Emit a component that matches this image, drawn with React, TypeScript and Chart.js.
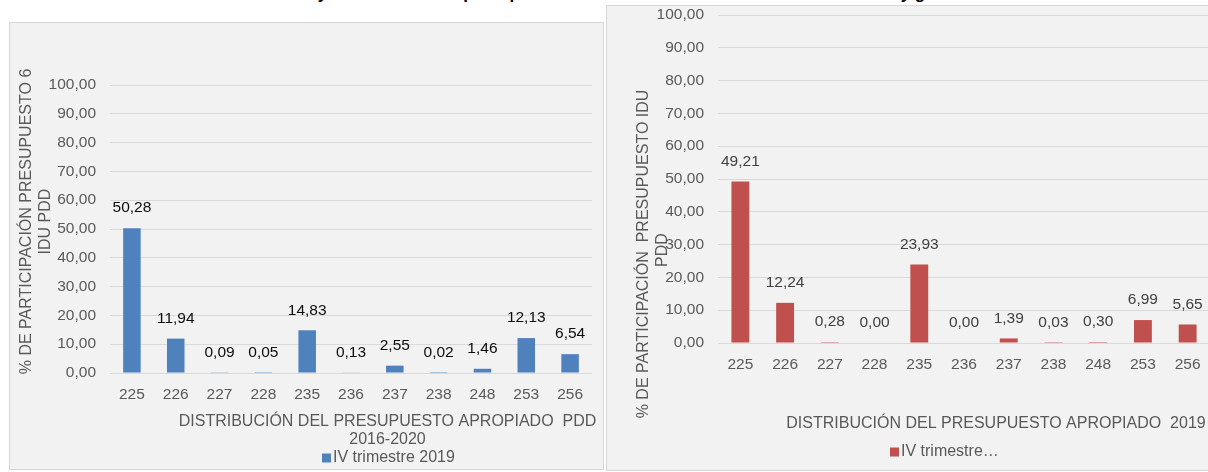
import React, { useEffect, useRef } from 'react';
import { Chart, registerables } from 'chart.js';

Chart.register(...registerables);

// ---------- data ----------
const categories = ['225', '226', '227', '228', '235', '236', '237', '238', '248', '253', '256'];
const pddShares = [50.28, 11.94, 0.09, 0.05, 14.83, 0.13, 2.55, 0.02, 1.46, 12.13, 6.54];
const year2019Shares = [49.21, 12.24, 0.28, 0.0, 23.93, 0.0, 1.39, 0.03, 0.3, 6.99, 5.65];
const yTickValues = [0, 10, 20, 30, 40, 50, 60, 70, 80, 90, 100];

const leftSeriesName = 'IV trimestre 2019';
const rightSeriesName = 'IV trimestre…';
const leftYTitle = ['% DE PARTICIPACIÓN PRESUPUESTO 6', 'IDU PDD'];
const leftXTitle = ['DISTRIBUCIÓN DEL PRESUPUESTO APROPIADO  PDD', '2016-2020'];
const rightYTitle = ['% DE PARTICIPACIÓN  PRESUPUESTO IDU', 'PDD'];
const rightXTitle = ['DISTRIBUCIÓN DEL PRESUPUESTO APROPIADO  2019'];
const pageTitle =
  'Gráfica 3. Relación y distribución del presupuesto total del IDU frente al del PDD 2016-2020 y gasto';

const FONT = "'Liberation Sans', Arial, sans-serif";
const fmt = (v: number) => Number(v).toFixed(2).replace('.', ',');

type Decor = {
  yTitle: string[];
  yTitleX: number[];
  yTitleY: number[];
  xTitle: string[];
  xTitleX: number;
  xTitleY: number[];
  legend: string;
  legendX: number;
  legendY: number;
  color: string;
};

function makeDecorPlugin(d: Decor) {
  return {
    id: 'decor',
    afterDraw(chart: any) {
      const ctx = chart.ctx;
      ctx.save();
      ctx.fillStyle = '#595959';
      ctx.font = `16px ${FONT}`;
      ctx.textAlign = 'center';
      ctx.textBaseline = 'middle';
      d.yTitle.forEach((line, i) => {
        ctx.save();
        ctx.translate(d.yTitleX[i], d.yTitleY[i]);
        ctx.rotate(-Math.PI / 2);
        ctx.fillText(line, 0, 0);
        ctx.restore();
      });
      d.xTitle.forEach((line, i) => {
        ctx.fillText(line, d.xTitleX, d.xTitleY[i]);
      });
      ctx.fillStyle = d.color;
      ctx.fillRect(d.legendX, d.legendY - 4.5, 9, 9);
      ctx.fillStyle = '#595959';
      ctx.textAlign = 'left';
      ctx.fillText(d.legend, d.legendX + 11, d.legendY);
      ctx.restore();
    },
  };
}

function makeLabelPlugin(color: string) {
  return {
    id: 'valueLabels',
    afterDatasetsDraw(chart: any) {
      const ctx = chart.ctx;
      ctx.save();
      ctx.fillStyle = color;
      ctx.font = `15.5px ${FONT}`;
      ctx.textAlign = 'center';
      ctx.textBaseline = 'middle';
      chart.data.datasets.forEach((ds: any, di: number) => {
        const meta = chart.getDatasetMeta(di);
        meta.data.forEach((bar: any, i: number) => {
          ctx.fillText(fmt(ds.data[i]), bar.x, bar.y - 20);
        });
      });
      ctx.restore();
    },
  };
}

type PanelProps = {
  values: number[];
  color: string;
  labelColor: string;
  left: number;
  top: number;
  width: number;
  height: number;
  padding: { left: number; right: number; top: number; bottom: number };
  yWidth: number;
  xHeight: number;
  decor: Decor;
};

function Panel(p: PanelProps) {
  const ref = useRef<HTMLCanvasElement>(null);
  useEffect(() => {
    if (!ref.current) return;
    const tickFont = { family: FONT, size: 15.5 };
    const chart = new Chart(ref.current, {
      type: 'bar',
      data: {
        labels: categories,
        datasets: [
          {
            label: p.decor.legend,
            data: p.values,
            backgroundColor: p.color,
            borderWidth: 0,
            barPercentage: 0.4,
            categoryPercentage: 1,
          },
        ],
      },
      options: {
        responsive: false,
        animation: false,
        devicePixelRatio: 1,
        layout: { padding: p.padding },
        plugins: {
          legend: { display: false },
          tooltip: { enabled: false },
          title: { display: false },
        },
        scales: {
          x: {
            grid: { display: false, drawTicks: false },
            border: { display: false },
            ticks: {
              color: '#595959',
              font: tickFont,
              padding: 12,
              autoSkip: false,
              maxRotation: 0,
            },
            afterFit: (s: any) => {
              s.height = p.xHeight;
            },
          },
          y: {
            min: yTickValues[0],
            max: yTickValues[yTickValues.length - 1],
            afterBuildTicks: (s: any) => {
              s.ticks = yTickValues.map((v) => ({ value: v }));
            },
            ticks: {
              color: '#595959',
              font: tickFont,
              padding: 14,
              callback: (v: any) => fmt(v),
            },
            grid: { color: '#d9d9d9', drawTicks: false, lineWidth: 1 },
            border: { display: false },
            afterFit: (s: any) => {
              s.width = p.yWidth;
            },
          },
        },
      } as any,
      plugins: [makeLabelPlugin(p.labelColor), makeDecorPlugin(p.decor)],
    });
    return () => chart.destroy();
  }, []);
  return (
    <canvas
      ref={ref}
      width={p.width}
      height={p.height}
      style={{ position: 'absolute', left: p.left, top: p.top, width: p.width, height: p.height }}
    />
  );
}

export default function App() {
  const boxStyle = {
    position: 'absolute' as const,
    boxSizing: 'border-box' as const,
    border: '1px solid #d6d6d6',
    background: '#f2f2f2',
  };
  return (
    <div
      style={{
        position: 'absolute',
        left: 0,
        top: 0,
        width: 1208,
        height: 472,
        overflow: 'hidden',
        background: '#ffffff',
      }}
    >
      <div style={{ position: 'absolute', left: 0, top: 0, width: 1208, height: 5, overflow: 'hidden' }}>
        <div
          style={{
            position: 'absolute',
            left: 160,
            top: -15,
            whiteSpace: 'pre',
            fontFamily: FONT,
            fontWeight: 'bold',
            fontSize: 17,
            lineHeight: '17px',
            color: '#000',
          }}
        >
          {pageTitle}
        </div>
      </div>
      <div style={{ ...boxStyle, left: 9, top: 22, width: 595, height: 448 }} />
      <div style={{ ...boxStyle, left: 606, top: 5, width: 700, height: 466 }} />
      <Panel
        values={pddShares}
        color="#4f81bd"
        labelColor="#0d0d0d"
        left={9}
        top={22}
        width={595}
        height={447}
        padding={{ left: 0, right: 12, top: 63, bottom: 66 }}
        yWidth={101}
        xHeight={30}
        decor={{
          yTitle: leftYTitle,
          yTitleX: [18, 37],
          yTitleY: [199.5, 199.5],
          xTitle: leftXTitle,
          xTitleX: 378.5,
          xTitleY: [399.7, 418],
          legend: leftSeriesName,
          legendX: 313,
          legendY: 436,
          color: '#4f81bd',
        }}
      />
      <Panel
        values={year2019Shares}
        color="#c0504d"
        labelColor="#404040"
        left={606}
        top={-20}
        width={610}
        height={491}
        padding={{ left: 0, right: 6, top: 35, bottom: 98 }}
        yWidth={112}
        xHeight={30}
        decor={{
          yTitle: rightYTitle,
          yTitleX: [37.7, 56.5],
          yTitleY: [274, 270],
          xTitle: rightXTitle,
          xTitleX: 390,
          xTitleY: [444],
          legend: rightSeriesName,
          legendX: 284,
          legendY: 472,
          color: '#c0504d',
        }}
      />
    </div>
  );
}
